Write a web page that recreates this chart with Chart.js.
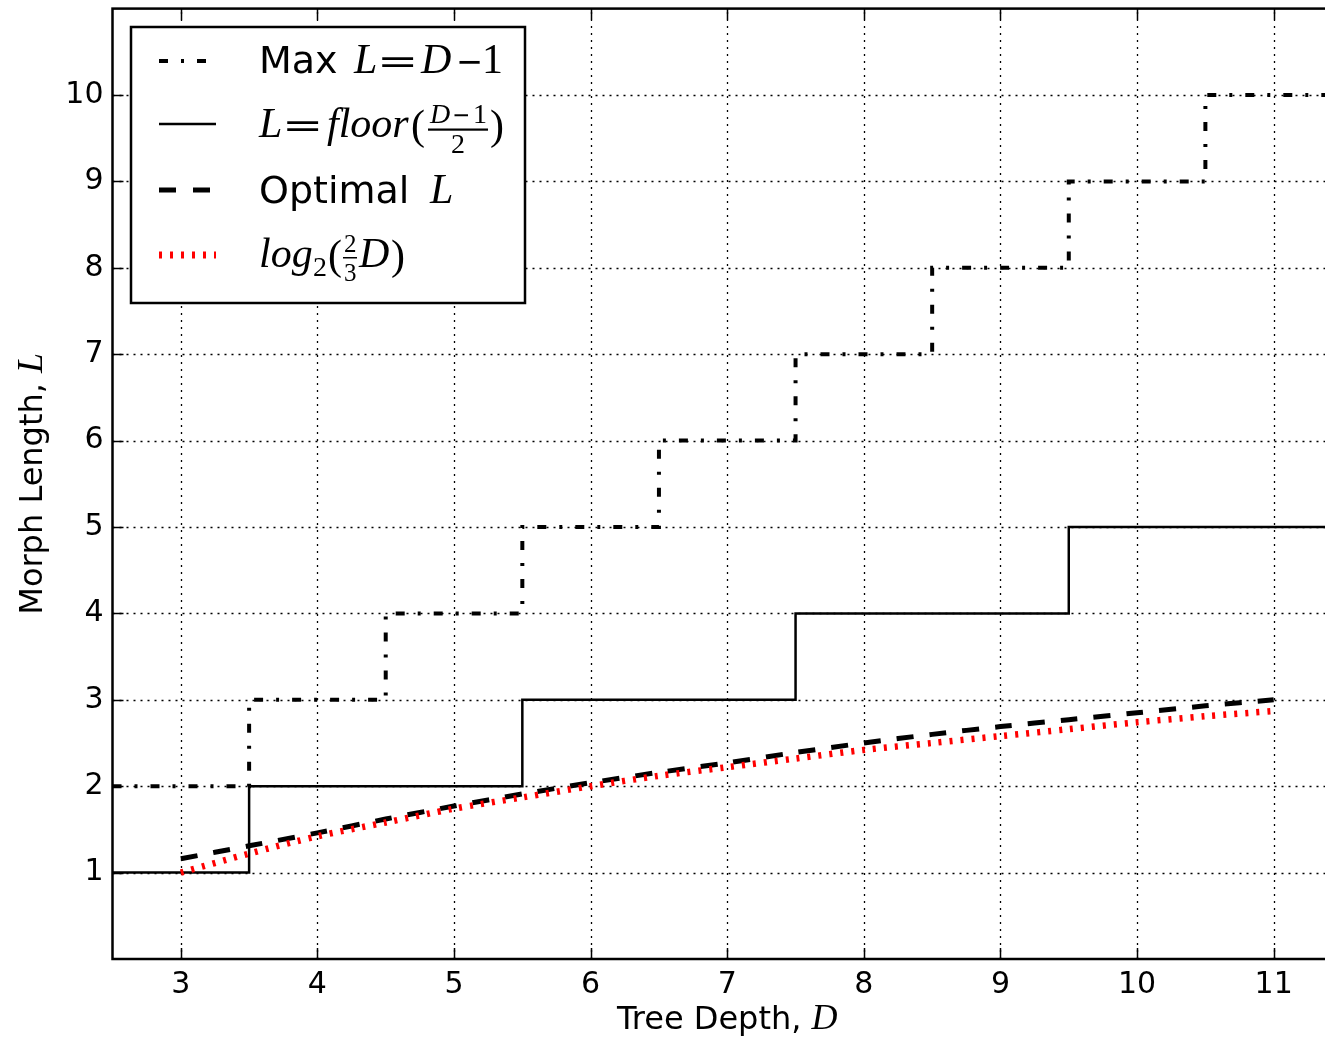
<!DOCTYPE html>
<html>
<head>
<meta charset="utf-8">
<script src="https://cdn.jsdelivr.net/npm/chart.js@4.4.1/dist/chart.umd.min.js"></script>
<style>
  html, body { margin: 0; padding: 0; overflow: hidden; background: #fff; }
  #wrap { width: 1345px; height: 1043px; }
</style>
</head>
<body>
<div id="wrap"><canvas id="chart"></canvas></div>
<script>
// step series (drawn with stepped:'middle', so steps fall at half depths)
const depthSteps = [2.5, 3, 4, 5, 6, 7, 8, 9, 10, 11, 11.5];
const maxL = [2, 2, 3, 4, 5, 6, 7, 8, 9, 10, 10];
const floorL = [1, 1, 2, 2, 3, 3, 4, 4, 5, 5, 5];

// smooth series, every half depth
const depthFine = [3, 3.5, 4, 4.5, 5, 5.5, 6, 6.5, 7, 7.5, 8, 8.5, 9, 9.5, 10, 10.5, 11];
const optimalL = [1.16, 1.31, 1.46, 1.62, 1.77, 1.91, 2.04, 2.16, 2.27, 2.39, 2.50, 2.60, 2.69, 2.77, 2.85, 2.93, 3.00];
const logL = [1.00, 1.22, 1.42, 1.58, 1.74, 1.87, 2.00, 2.12, 2.22, 2.32, 2.42, 2.50, 2.58, 2.66, 2.74, 2.81, 2.87];

const xTicks = [3, 4, 5, 6, 7, 8, 9, 10, 11];
const yTicks = [1, 2, 3, 4, 5, 6, 7, 8, 9, 10];

const pts = (xs, ys) => xs.map((x, i) => ({ x: x, y: ys[i] }));

const SANS = '"DejaVu Sans", sans-serif';
const SERIF = '"Liberation Serif", serif';

// text stretched horizontally (the mathtext = and - are wide)
function wide(ctx, t, x, y, font, sx) {
  ctx.save();
  ctx.font = font;
  ctx.translate(x, y);
  ctx.scale(sx, 1);
  ctx.fillText(t, 0, 0);
  ctx.restore();
}

function drawLegend(ctx) {
  ctx.save();
  ctx.fillStyle = '#fff';
  ctx.fillRect(131, 27, 394, 276);
  ctx.strokeStyle = '#000';
  ctx.lineWidth = 2.5;
  ctx.strokeRect(131, 27, 394, 276);

  const samples = [
    { y: 61, w: 4, dash: [9, 13, 3, 13], color: '#000' },
    { y: 124, w: 2.5, dash: [], color: '#000' },
    { y: 190, w: 5, dash: [17, 17], color: '#000' },
    { y: 255, w: 7, dash: [3, 8], color: '#ff0000' }
  ];
  samples.forEach(s => {
    ctx.beginPath();
    ctx.setLineDash(s.dash);
    ctx.lineWidth = s.w;
    ctx.strokeStyle = s.color;
    ctx.moveTo(159, s.y);
    ctx.lineTo(216, s.y);
    ctx.stroke();
  });
  ctx.setLineDash([]);

  ctx.fillStyle = '#000';
  ctx.textBaseline = 'alphabetic';
  ctx.textAlign = 'left';
  const MI = 'italic 42px ' + SERIF;
  const MR = '42px ' + SERIF;
  const OP = '34px "DejaVu Sans"';

  // Max L = D - 1
  ctx.font = '38px ' + SANS;
  ctx.fillText('Max', 259, 73);
  ctx.font = MI; ctx.fillText('L', 354, 73);
  wide(ctx, '=', 377, 73, OP, 1.45);
  ctx.font = MI; ctx.fillText('D', 421, 73);
  wide(ctx, '\u2212', 456, 73, OP, 0.95);
  ctx.font = MR; ctx.fillText('1', 482, 73);

  // L = floor((D-1)/2)
  ctx.font = MI; ctx.fillText('L', 259, 137);
  wide(ctx, '=', 282, 137, OP, 1.45);
  ctx.font = MI; ctx.fillText('floor', 327, 137);
  ctx.font = MR; ctx.fillText('(', 411, 139);
  ctx.font = 'italic 28px ' + SERIF; ctx.fillText('D', 430, 123);
  wide(ctx, '\u2212', 452, 123, '24px "DejaVu Sans"', 0.9);
  ctx.font = '28px ' + SERIF; ctx.fillText('1', 473, 123);
  ctx.fillRect(428, 128.5, 60, 2.2);
  ctx.font = '28px ' + SERIF; ctx.fillText('2', 451, 153);
  ctx.font = MR; ctx.fillText(')', 490, 139);

  // Optimal L
  ctx.font = '38px ' + SANS;
  ctx.fillText('Optimal', 259, 203);
  ctx.font = MI; ctx.fillText('L', 430, 203);

  // log2(2/3 D)
  ctx.font = MI; ctx.fillText('log', 259, 267);
  ctx.font = '28px ' + SERIF; ctx.fillText('2', 313, 276);
  ctx.font = MR; ctx.fillText('(', 328, 269);
  ctx.font = '25px ' + SERIF;
  ctx.fillText('2', 344, 252);
  ctx.fillText('3', 344, 281);
  ctx.fillRect(343, 257, 14, 1.5);
  ctx.font = MI; ctx.fillText('D', 359, 267);
  ctx.font = MR; ctx.fillText(')', 391, 269);
  ctx.restore();
}

const framePlugin = {
  id: 'frame',
  beforeDatasetsDraw(chart) {
    const { ctx, chartArea: a, scales: { x, y } } = chart;
    ctx.save();
    ctx.strokeStyle = '#000';
    ctx.lineWidth = 1.3;
    ctx.setLineDash([2, 5]);
    xTicks.forEach(v => {
      const px = Math.round(x.getPixelForValue(v)) + 0.5;
      ctx.beginPath(); ctx.moveTo(px, a.bottom); ctx.lineTo(px, a.top); ctx.stroke();
    });
    yTicks.forEach(v => {
      const py = Math.round(y.getPixelForValue(v)) + 0.5;
      ctx.beginPath(); ctx.moveTo(a.left, py); ctx.lineTo(a.right, py); ctx.stroke();
    });
    ctx.restore();
  },
  afterDatasetsDraw(chart) {
    const { ctx, chartArea: a, scales: { x, y } } = chart;
    ctx.save();
    ctx.strokeStyle = '#000';
    ctx.lineWidth = 1.5;
    const tl = 11;
    xTicks.forEach(v => {
      const px = Math.round(x.getPixelForValue(v)) + 0.5;
      ctx.beginPath();
      ctx.moveTo(px, a.bottom); ctx.lineTo(px, a.bottom - tl);
      ctx.moveTo(px, a.top); ctx.lineTo(px, a.top + tl);
      ctx.stroke();
    });
    yTicks.forEach(v => {
      const py = Math.round(y.getPixelForValue(v)) + 0.5;
      ctx.beginPath();
      ctx.moveTo(a.left, py); ctx.lineTo(a.left + tl, py);
      ctx.moveTo(a.right, py); ctx.lineTo(a.right - tl, py);
      ctx.stroke();
    });
    ctx.lineWidth = 2.5;
    ctx.strokeRect(a.left, a.top, a.right - a.left, a.bottom - a.top);
    ctx.restore();

    drawLegend(ctx);

    // axis titles
    ctx.save();
    ctx.fillStyle = '#000';
    ctx.textBaseline = 'alphabetic';
    const TF = '32px ' + SANS;
    const TM = 'italic 36px ' + SERIF;
    const cx = (a.left + a.right) / 2;
    const t1 = 'Tree Depth, ';
    ctx.font = TM;
    const wD = ctx.measureText('D').width;
    ctx.font = TF;
    const w1 = ctx.measureText(t1).width;
    let sx = cx - (w1 + wD) / 2;
    ctx.fillText(t1, sx, 1029);
    ctx.font = TM;
    ctx.fillText('D', sx + w1, 1029);

    const cy = (a.top + a.bottom) / 2;
    ctx.translate(42, cy);
    ctx.rotate(-Math.PI / 2);
    const t2 = 'Morph Length, ';
    ctx.font = TF;
    const w2 = ctx.measureText(t2).width;
    ctx.font = TM;
    const wL = ctx.measureText('L').width;
    sx = -(w2 + wL) / 2;
    ctx.font = TF;
    ctx.fillText(t2, sx, 0);
    ctx.font = TM;
    ctx.fillText('L', sx + w2, 0);
    ctx.restore();
  }
};

const ctx = document.getElementById('chart').getContext('2d');
new Chart(ctx, {
  type: 'line',
  data: {
    datasets: [
      {
        label: 'Max L=D-1',
        data: pts(depthSteps, maxL),
        stepped: 'middle',
        borderColor: '#000',
        borderWidth: 4,
        borderDash: [9, 13, 3, 13],
        pointRadius: 0,
        fill: false,
        order: 2
      },
      {
        label: 'L=floor((D-1)/2)',
        data: pts(depthSteps, floorL),
        stepped: 'middle',
        borderColor: '#000',
        borderWidth: 2.5,
        pointRadius: 0,
        fill: false,
        order: 3
      },
      {
        label: 'Optimal L',
        data: pts(depthFine, optimalL),
        borderColor: '#000',
        borderWidth: 5,
        borderDash: [17, 16],
        tension: 0.3,
        pointRadius: 0,
        fill: false,
        order: 1
      },
      {
        label: 'log2(2/3 D)',
        data: pts(depthFine, logL),
        borderColor: '#ff0000',
        borderWidth: 6.5,
        borderDash: [3, 8],
        tension: 0.3,
        pointRadius: 0,
        fill: false,
        order: 0
      }
    ]
  },
  options: {
    responsive: true,
    maintainAspectRatio: false,
    animation: false,
    events: [],
    layout: { padding: { top: 8.6, right: 3, bottom: 0, left: 0 } },
    plugins: { legend: { display: false }, tooltip: { enabled: false } },
    scales: {
      x: {
        type: 'linear',
        min: 2.5,
        max: 11.5,
        afterBuildTicks: s => { s.ticks = xTicks.map(v => ({ value: v })); },
        afterFit: s => { s.height = 84; s.paddingLeft = 0; s.paddingRight = 0; },
        grid: { display: false, drawTicks: false },
        border: { display: false },
        ticks: { color: '#000', font: { family: 'DejaVu Sans', size: 30 }, padding: 8, maxRotation: 0 }
      },
      y: {
        type: 'linear',
        min: 0,
        max: 11,
        afterBuildTicks: s => { s.ticks = yTicks.map(v => ({ value: v })); },
        afterFit: s => { s.width = 112.5; s.paddingTop = 0; s.paddingBottom = 0; },
        grid: { display: false, drawTicks: false },
        border: { display: false },
        ticks: { color: '#000', font: { family: 'DejaVu Sans', size: 30 }, padding: 9 }
      }
    }
  },
  plugins: [framePlugin]
});
</script>
</body>
</html>
